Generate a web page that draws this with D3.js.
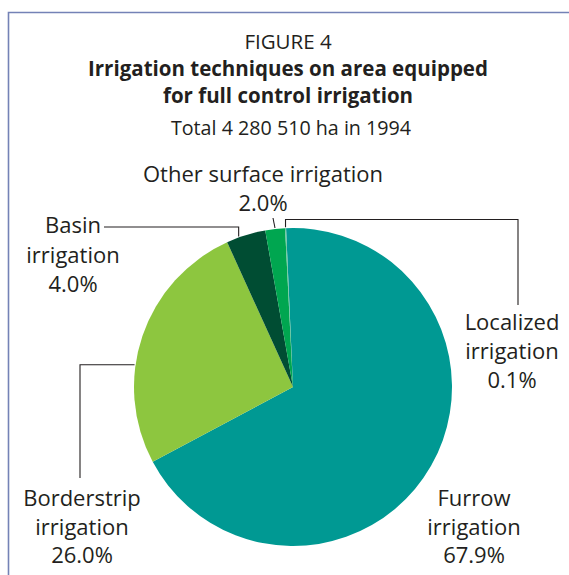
<!DOCTYPE html>
<html>
<head>
<meta charset="utf-8">
<script src="https://cdn.jsdelivr.net/npm/d3@7"></script>
<style>
  html, body { margin: 0; padding: 0; background: #ffffff; }
  svg { display: block; }
  text { font-family: "Open Sans", "Noto Sans", sans-serif; fill: #231f20; }
</style>
</head>
<body>
<svg id="chart" width="569" height="575"></svg>
<script>
// Irrigation techniques, share of area equipped for full control irrigation (%)
const categories = ["Furrow irrigation", "Borderstrip irrigation", "Basin irrigation", "Other surface irrigation", "Localized irrigation"];
const shares = [67.9, 26.0, 4.0, 2.0, 0.1];
const shareLabels = ["67.9%", "26.0%", "4.0%", "2.0%", "0.1%"];
const sliceColors = ["#009993", "#8dc63f", "#004d33", "#00a650", "#62c29a"];

const titleLines = ["Irrigation techniques on area equipped", "for full control irrigation"];
const figureLabel = "FIGURE 4";
const subtitle = "Total 4 280 510 ha in 1994";

const svg = d3.select("#chart");
const W = 569, H = 575;

// Frame: rule along the top and down the left side
svg.append("path")
  .attr("d", `M${W},12.5 L8.5,12.5 L8.5,${H}`)
  .attr("fill", "none")
  .attr("stroke", "#7482b6")
  .attr("stroke-width", 1.6);

// Heading block
svg.append("text").attr("x", 288).attr("y", 49).attr("text-anchor", "middle")
  .attr("font-size", 20.5).text(figureLabel);
svg.append("text").attr("x", 288).attr("y", 76).attr("text-anchor", "middle")
  .attr("font-size", 20.5).attr("font-weight", 700).text(titleLines[0]);
svg.append("text").attr("x", 288).attr("y", 102.5).attr("text-anchor", "middle")
  .attr("font-size", 20.5).attr("font-weight", 700).text(titleLines[1]);
svg.append("text").attr("x", 291).attr("y", 135).attr("text-anchor", "middle")
  .attr("font-size", 19.7).text(subtitle);

// Pie
const cx = 293, cy = 387, R = 159;
const deg = Math.PI / 180;
const pie = d3.pie().sort(null).value(d => d)
  .startAngle(-2.5 * deg).endAngle(357.5 * deg);
const arcs = pie(shares);
const arc = d3.arc().innerRadius(0).outerRadius(R);

const g = svg.append("g").attr("transform", `translate(${cx},${cy})`);
g.selectAll("path.slice")
  .data(arcs)
  .join("path")
  .attr("class", "slice")
  .attr("d", arc)
  .attr("fill", (d, i) => sliceColors[i]);

// Point on the rim of slice i, at fraction t of its angular span
function rimPoint(i, t, extra = 0) {
  const a = arcs[i].startAngle + t * (arcs[i].endAngle - arcs[i].startAngle);
  return [cx + (R + extra) * Math.sin(a), cy - (R + extra) * Math.cos(a)];
}

// Leader lines
const line = d3.line();
const leaders = [];
{
  const p = rimPoint(2, 0.32, 1);
  leaders.push([p, [p[0], 227], [104, 227]]);
}
{
  const p = rimPoint(3, 0.5, 1);
  leaders.push([p, [273, 218]]);
}
{
  const p = rimPoint(4, 0.5, 1);
  leaders.push([p, [p[0], 219.5], [518, 219.5], [518, 305]]);
}
{
  const p = rimPoint(1, 0.385, 1);
  leaders.push([p, [80, p[1]], [80, 478]]);
}
svg.selectAll("path.leader")
  .data(leaders)
  .join("path")
  .attr("class", "leader")
  .attr("d", line)
  .attr("fill", "none")
  .attr("stroke", "#231f20")
  .attr("stroke-width", 1.1);

// Slice labels: each is a name split over lines plus the share
const labelFont = 22;
const labelSpots = [
  { i: 0, x: 474, y: 506, lines: ["Furrow", "irrigation"], gap: 28.5 },
  { i: 1, x: 82,  y: 506, lines: ["Borderstrip", "irrigation"], gap: 28.5 },
  { i: 2, x: 73,  y: 233, lines: ["Basin", "irrigation"], gap: 29.5 },
  { i: 3, x: 263, y: 182, lines: ["Other surface irrigation"], gap: 28.5 },
  { i: 4, x: 512, y: 330, lines: ["Localized", "irrigation"], gap: 28.8 }
];
labelSpots.forEach(s => {
  const t = svg.append("text")
    .attr("text-anchor", "middle")
    .attr("font-size", labelFont);
  const rows = s.lines.concat([shareLabels[s.i]]);
  rows.forEach((r, k) => {
    t.append("tspan").attr("x", s.x).attr("y", s.y + k * s.gap).text(r);
  });
});
</script>
</body>
</html>
